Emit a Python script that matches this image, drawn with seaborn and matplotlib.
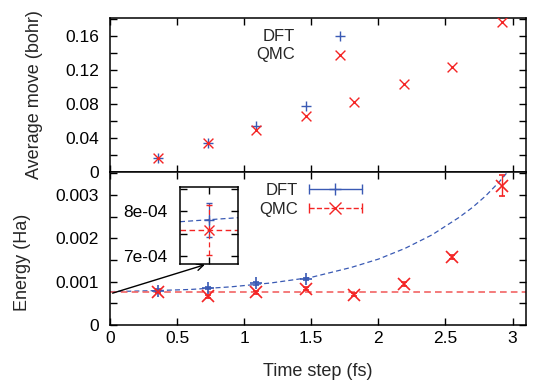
import numpy as np
import pandas as pd
import matplotlib
matplotlib.use("Agg")
import matplotlib.pyplot as plt
from matplotlib.lines import Line2D
from matplotlib.legend_handler import HandlerBase
from matplotlib.ticker import MultipleLocator, FuncFormatter
import seaborn as sns

sns.set_theme(style="ticks")
plt.rcParams['font.family'] = ['Liberation Sans', 'DejaVu Sans']
plt.rcParams['font.size'] = 12.5

BLUE = "#3a5ab4"
RED = "#f42424"

# === data ===
dt = [0.36, 0.73, 1.09, 1.46, 1.82, 2.19, 2.55, 2.92]

move_dft = [0.0165, 0.034, 0.054, 0.078]
move_qmc = [0.0165, 0.034, 0.049, 0.066, 0.082, 0.1035, 0.1235, 0.1765]

e_dft = [0.00079, 0.00085, 0.00096, 0.00106]
e_dft_err = [0.00003, 0.00003, 0.00003, 0.00003]
e_qmc = [0.00077, 0.00066, 0.00075, 0.00084, 0.00070, 0.00095, 0.00157, 0.00321]
e_qmc_err = [0.00003, 0.00004, 0.00004, 0.00004, 0.00003, 0.00004, 0.00005, 0.00024]

# fit curves
fit_x = [0.0, 0.3, 0.6, 0.9, 1.2, 1.5, 1.8, 2.0, 2.2, 2.4, 2.6, 2.7, 2.8, 2.9, 2.96, 3.0]
fit_dft = [0.00077, 0.00079, 0.00082, 0.00088, 0.00097, 0.00110, 0.00133, 0.00152,
           0.00177, 0.00208, 0.00248, 0.00271, 0.00298, 0.00330, 0.00352, 0.00368]
fit_qmc_x = [0.0, 3.1]
fit_qmc = [0.00076, 0.00076]

# extrapolated values at dt = 0 (inset)
inset_x = [-0.07, 0.07]
inset_fit_dft = [0.000777, 0.000786]
inset_fit_qmc = [0.000759, 0.000759]
e0_dft, e0_dft_err = 0.000781, 0.000038
e0_qmc, e0_qmc_err = 0.000759, 0.000056

DASH = (0, (4, 2.5))


class CapHandler(HandlerBase):
    # gnuplot-like key: line with end caps and marker in the middle
    def create_artists(self, legend, orig, xdescent, ydescent, width, height, fontsize, trans):
        y = height / 2 - ydescent
        x0, x1 = -xdescent, width - xdescent
        c = orig.get_color()
        line = Line2D([x0, x1], [y, y], color=c, ls=orig.get_linestyle(), lw=1)
        caps = Line2D([x0, x1], [y, y], color=c, ls="none", marker="|", markersize=7, mew=1)
        mk = Line2D([(x0 + x1) / 2], [y], color=c, ls="none", marker=orig.get_marker(),
                    markersize=8, mew=1)
        for a in (line, caps, mk):
            a.set_transform(trans)
        return [line, caps, mk]


fig = plt.figure(figsize=(5.34, 3.83), dpi=100)
ax1 = fig.add_axes([110 / 534, 1 - 172 / 383, 416 / 534, 154 / 383])
ax2 = fig.add_axes([110 / 534, 1 - 325 / 383, 416 / 534, 153 / 383])

fmt = FuncFormatter(lambda v, p: "%g" % round(v, 6))


def style(ax):
    for s in ax.spines.values():
        s.set_linewidth(1.1)
        s.set_color("black")
    ax.tick_params(which="both", direction="in", top=True, right=True, length=5, width=1,
                   colors="black", labelsize=12.5)
    ax.xaxis.set_major_locator(MultipleLocator(0.5))
    ax.set_xlim(0, 3.1)


# === top panel: average move ===
top = pd.DataFrame({"dt": dt[:4], "move": move_dft})
topq = pd.DataFrame({"dt": dt, "move": move_qmc})
sns.scatterplot(data=top, x="dt", y="move", marker="+", s=60, color=BLUE, linewidth=1,
                ax=ax1, label="DFT", zorder=3)
sns.scatterplot(data=topq, x="dt", y="move", marker="x", s=50, color=RED, linewidth=1,
                ax=ax1, label="QMC", zorder=3)
style(ax1)
ax1.set_ylim(0, 0.181)
ax1.yaxis.set_major_locator(MultipleLocator(0.04))
ax1.yaxis.set_minor_locator(MultipleLocator(0.02))
ax1.yaxis.set_major_formatter(fmt)
ax1.tick_params(axis="x", labelbottom=False)
ax1.tick_params(axis="y", pad=8)
ax1.set_xlabel("")
ax1.set_ylabel("Average move (bohr)", fontsize=13)
ax1.yaxis.set_label_coords(-0.16, 0.5)
ax1.legend(loc="upper right", bbox_to_anchor=(0.6, 0.975), frameon=False, markerfirst=False,
           handlelength=1.5, handletextpad=2.0, labelspacing=0.22, borderaxespad=0, fontsize=12)

# === bottom panel: energy ===
sns.lineplot(x=fit_x, y=fit_dft, color=BLUE, lw=0.9, ls=DASH, ax=ax2)
sns.lineplot(x=fit_qmc_x, y=fit_qmc, color="#f26464", lw=1.2, ls=DASH, ax=ax2)
ax2.errorbar(dt[:4], e_dft, yerr=e_dft_err, fmt="+", color=BLUE, ms=8, mew=1.2,
             elinewidth=1, capsize=2.5, zorder=3)
ax2.errorbar(dt, e_qmc, yerr=e_qmc_err, fmt="x", color=RED, ms=8, mew=1.2,
             elinewidth=1, capsize=2.5, zorder=3)
style(ax2)
ax2.set_ylim(0, 0.00353)
ax2.yaxis.set_major_locator(MultipleLocator(0.001))
ax2.yaxis.set_minor_locator(MultipleLocator(0.0005))
ax2.xaxis.set_major_formatter(fmt)
ax2.yaxis.set_major_formatter(fmt)
ax2.tick_params(axis="y", pad=8)
ax2.tick_params(axis="x", pad=4)
ax2.set_xlabel("Time step (fs)", fontsize=13)
ax2.set_ylabel("Energy (Ha)", fontsize=13)
ax2.yaxis.set_label_coords(-0.19, 0.41)
ax2.xaxis.set_label_coords(0.5, -0.25)

handles = [Line2D([], [], color=BLUE, ls="-", marker="+"),
           Line2D([], [], color=RED, ls=DASH, marker="x")]
ax2.legend(handles, ["DFT", "QMC"], handler_map={Line2D: CapHandler()}, loc="upper right",
           bbox_to_anchor=(0.622, 0.97), frameon=False, markerfirst=False, handlelength=3.2,
           handletextpad=0.65, labelspacing=0.2, borderaxespad=0, fontsize=12)

ax2.annotate("", xy=(0.727, 0.00141), xytext=(0, 0.000716),
             arrowprops=dict(arrowstyle="->", color="black", lw=1, mutation_scale=12))

# === inset: extrapolation to dt = 0 ===
axi = fig.add_axes([180 / 534, 1 - 264 / 383, 58 / 534, 77 / 383])
sns.lineplot(x=inset_x, y=inset_fit_dft, color=BLUE, lw=0.9, ls=DASH, ax=axi)
sns.lineplot(x=inset_x, y=inset_fit_qmc, color=RED, lw=1.0, ls=DASH, ax=axi)
axi.errorbar([0], [e0_dft], yerr=[e0_dft_err], fmt="+", color=BLUE, ms=7, mew=1,
             elinewidth=0.9, capsize=2.5, zorder=3)
eb = axi.errorbar([0], [e0_qmc], yerr=[e0_qmc_err], fmt="x", color=RED, ms=7, mew=1,
                  elinewidth=0.9, capsize=2.5, zorder=3)
eb[2][0].set_linestyle(DASH)
for s in axi.spines.values():
    s.set_linewidth(1.1)
    s.set_color("black")
axi.set_xlim(-0.07, 0.07)
axi.set_ylim(0.000682, 0.000855)
axi.set_xticks([0])
axi.yaxis.set_major_locator(MultipleLocator(0.0001))
axi.yaxis.set_minor_locator(MultipleLocator(0.00005))
axi.yaxis.set_major_formatter(FuncFormatter(lambda v, p: "%.0e" % v))
axi.tick_params(which="both", direction="in", top=True, right=True, length=5, width=1,
                colors="black", labelsize=12.5, labelbottom=False, pad=9)
axi.set_facecolor("white")

fig.savefig("out.png", dpi=100)
